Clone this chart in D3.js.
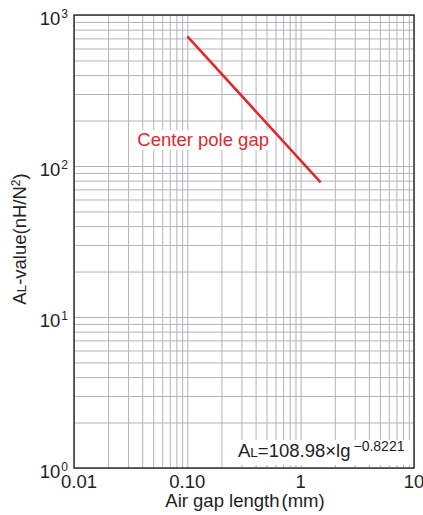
<!DOCTYPE html>
<html>
<head>
<meta charset="utf-8">
<script src="https://cdn.jsdelivr.net/npm/d3@7"></script>
<style>
    body { margin: 0; background: #fff; }
    text { font-family: "Liberation Sans", Arial, sans-serif; }
</style>
</head>
<body>
<div id="chart"></div>
<script>
"use strict";

// values
var gapX = [0.1, 1.5]          // air gap length, mm
var alY = [723, 78]            // AL value, nH/N^2
var xTickValues = [0.01, 0.1, 1, 10]
var xTickLabels = ["0.01", "0.10", "1", "10"]
var yTickValues = [1, 10, 100, 1000]
var yTickExps = ["0", "1", "2", "3"]
var curveLabel = "Center pole gap"
var formulaCoef = "108.98"
var formulaExp = "\u22120.8221"

var width = 423
var height = 515
var margin = {top: 15, right: 9, bottom: 47, left: 74}
var innerW = width - margin.left - margin.right
var innerH = height - margin.top - margin.bottom
var gridColor = "#b3b3ba"
var red = "#dc2a2e"
var fontSize = 18.5

var svg = d3.select("#chart").append("svg")
    .attr("width", width)
    .attr("height", height)

var g = svg.append("g")
    .attr("transform", "translate(" + margin.left + "," + margin.top + ")")

var x = d3.scaleLog().domain([0.01, 10]).range([0, innerW])
var y = d3.scaleLog().domain([1, 1000]).range([innerH, 0])

// grid, one line for every 1..9 step of each decade
var xGrid = g.append("g")
    .attr("transform", "translate(0," + innerH + ")")
    .call(d3.axisBottom(x).tickSize(-innerH).tickFormat(""))
var yGrid = g.append("g")
    .call(d3.axisLeft(y).tickSize(-innerW).tickFormat(""))
;[xGrid, yGrid].forEach(function(sel) {
    sel.select(".domain").remove()
    sel.selectAll("line")
        .attr("stroke", gridColor)
        .attr("stroke-width", 1)
})

// the curve
var line = d3.line()
    .x(function(d) { return x(d[0]) })
    .y(function(d) { return y(d[1]) })
g.append("path")
    .datum(d3.zip(gapX, alY))
    .attr("d", line)
    .attr("fill", "none")
    .attr("stroke", red)
    .attr("stroke-width", 2.6)

// label with a white box behind it
var labelGroup = g.append("g")
var labelText = labelGroup.append("text")
    .attr("x", x(0.1) - 50)
    .attr("y", y(100) - 20)
    .attr("fill", red)
    .style("font-size", fontSize + "px")
    .text(curveLabel)
var lb = labelText.node().getBBox()
labelGroup.insert("rect", "text")
    .attr("x", lb.x - 3)
    .attr("y", lb.y + 1)
    .attr("width", lb.width + 5)
    .attr("height", lb.height - 1)
    .attr("fill", "#fff")

// formula box at bottom right
var fGroup = g.append("g")
var fText = fGroup.append("text")
    .attr("x", 164)
    .attr("y", innerH - 11)
    .attr("fill", "#222")
    .style("font-size", fontSize + "px")
fText.append("tspan").text("A")
fText.append("tspan").style("font-size", "13.5px").text("L")
fText.append("tspan").text("=" + formulaCoef + "\u00d7lg")
fText.append("tspan")
    .attr("dx", 3)
    .attr("dy", -6)
    .style("font-size", "14px")
    .text(formulaExp)
var fb = fText.node().getBBox()
fGroup.insert("rect", "text")
    .attr("x", fb.x - 4)
    .attr("y", innerH - 28)
    .attr("width", innerW - fb.x + 4)
    .attr("height", 25)
    .attr("fill", "#fff")

// frame
g.append("rect")
    .attr("width", innerW)
    .attr("height", innerH)
    .attr("fill", "none")
    .attr("stroke", "#333")
    .attr("stroke-width", 1.5)

// x tick labels
g.selectAll(".xlab")
    .data(xTickValues)
    .enter().append("text")
    .attr("class", "xlab")
    .attr("x", function(d, i) { return x(d) + (i == 0 ? 5 : 0) })
    .attr("y", innerH + 20)
    .attr("text-anchor", "middle")
    .attr("fill", "#222")
    .style("font-size", fontSize + "px")
    .text(function(d, i) { return xTickLabels[i] })

// y tick labels, 10 with a raised exponent
var yLab = g.selectAll(".ylab")
    .data(yTickValues)
    .enter().append("text")
    .attr("class", "ylab")
    .attr("x", -6)
    .attr("y", function(d) { return y(d) + 10 })
    .attr("text-anchor", "end")
    .attr("fill", "#222")
    .style("font-size", fontSize + "px")
yLab.append("tspan").text("10")
yLab.append("tspan")
    .attr("dx", 1)
    .attr("dy", -7)
    .style("font-size", "12px")
    .text(function(d, i) { return yTickExps[i] })

// axis titles
var xTitle = svg.append("text")
    .attr("x", margin.left + innerW / 2 + 1)
    .attr("y", 507)
    .attr("text-anchor", "middle")
    .attr("fill", "#222")
    .style("font-size", fontSize + "px")
xTitle.append("tspan").text("Air gap length")
xTitle.append("tspan").attr("dx", 2).text("(mm)")

var yTitle = svg.append("text")
    .attr("transform", "translate(26," + 239 + ") rotate(-90)")
    .attr("text-anchor", "middle")
    .attr("fill", "#222")
    .style("font-size", fontSize + "px")
yTitle.append("tspan").text("A")
yTitle.append("tspan").style("font-size", "13.5px").text("L")
yTitle.append("tspan").text("-value(nH/N")
yTitle.append("tspan").attr("dy", -6).style("font-size", "12px").text("2")
yTitle.append("tspan").attr("dy", 6).text(")")
</script>
</body>
</html>
